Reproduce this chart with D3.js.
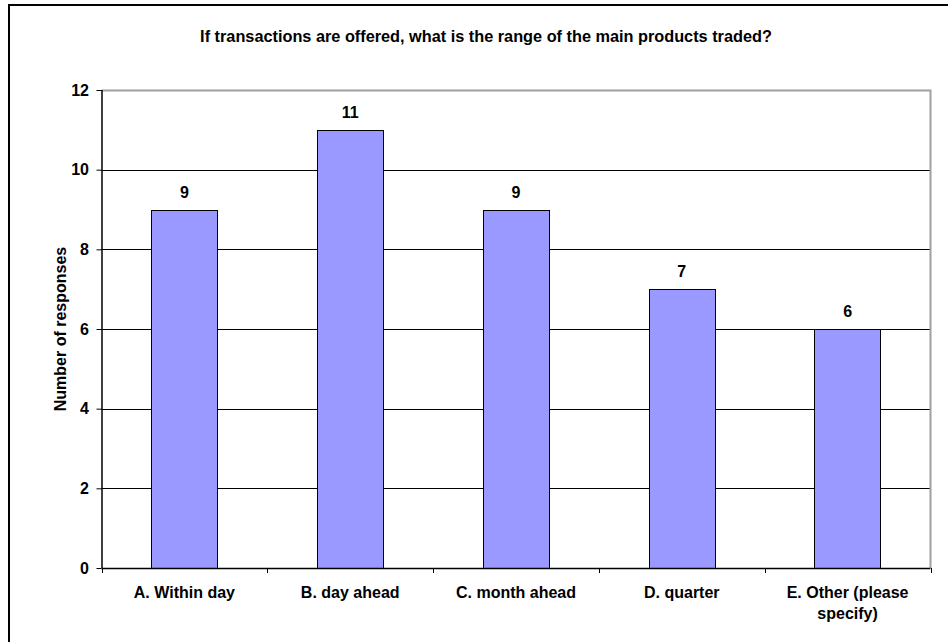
<!DOCTYPE html>
<html>
<head>
<meta charset="utf-8">
<script src="https://cdn.jsdelivr.net/npm/d3@7"></script>
<style>
  html, body { margin: 0; padding: 0; background: #fff; }
  svg { display: block; }
  text { font-family: "Liberation Sans", Arial, sans-serif; font-weight: bold; fill: #000; }
</style>
</head>
<body>
<svg id="chart" width="948" height="642"></svg>
<script>
const title = "If transactions are offered, what is the range of the main products traded?";
const categories = ["A. Within day", "B. day ahead", "C. month ahead", "D. quarter", "E. Other (please specify)"];
const categoryLines = [["A. Within day"], ["B. day ahead"], ["C. month ahead"], ["D. quarter"], ["E. Other (please", "specify)"]];
const values = [9, 11, 9, 7, 6];
const yTicks = [0, 2, 4, 6, 8, 10, 12];
const yLabel = "Number of responses";

const svg = d3.select("#chart");
const m = { left: 101.5, right: 930.5, top: 90, bottom: 568 };
const FS = 16;

// outer chart frame (only top/left visible in crop)
svg.append("path")
  .attr("d", `M9,642 V5 H948`)
  .attr("fill", "none").attr("stroke", "#000").attr("stroke-width", 2);

const x = d3.scaleBand().domain(categories).range([m.left, m.right]).paddingInner(0.6).paddingOuter(0.3);
const y = d3.scaleLinear().domain([0, 12]).range([m.bottom, m.top]);

// gridlines
svg.append("g").selectAll("line").data(yTicks.filter(d => d > 0 && d < 12)).join("line")
  .attr("x1", m.left).attr("x2", m.right)
  .attr("y1", d => Math.round(y(d)) + 0.5).attr("y2", d => Math.round(y(d)) + 0.5)
  .attr("stroke", "#000").attr("stroke-width", 1);

// plot area border top/right (gray)
svg.append("path")
  .attr("d", `M${m.left},${Math.round(y(12)) + 0.5} H${m.right} V${m.bottom}`)
  .attr("fill", "none").attr("stroke", "#a0a0a0").attr("stroke-width", 2);

// bars
svg.append("g").selectAll("rect").data(values).join("rect")
  .attr("x", (d, i) => Math.round(x(categories[i])) + 0.5)
  .attr("y", d => Math.round(y(d)) + 0.5)
  .attr("width", Math.round(x.bandwidth()))
  .attr("height", d => Math.round(y(0)) - Math.round(y(d)))
  .attr("fill", "#9999ff").attr("stroke", "#000").attr("stroke-width", 1);

// value labels
svg.append("g").selectAll("text").data(values).join("text")
  .attr("x", (d, i) => x(categories[i]) + x.bandwidth() / 2)
  .attr("y", d => y(d) - 12)
  .attr("text-anchor", "middle").attr("font-size", FS)
  .text(d => d);

// y axis
const yAxis = svg.append("g").attr("transform", `translate(${m.left},0)`)
  .call(d3.axisLeft(y).tickValues(yTicks).tickSize(5).tickPadding(7.5).tickFormat(d3.format("d")));
yAxis.select(".domain").attr("stroke", "#000").attr("stroke-width", 1.5).attr("d", `M0.5,${m.top}V${m.bottom}`);
yAxis.selectAll(".tick line").attr("stroke", "#000");
yAxis.selectAll(".tick text").attr("font-size", FS).attr("font-family", null).attr("font-weight", null).attr("fill", "#000");

// x axis
const xb = svg.append("g");
xb.append("line").attr("x1", m.left).attr("x2", m.right).attr("y1", m.bottom + 0.5).attr("y2", m.bottom + 0.5)
  .attr("stroke", "#000").attr("stroke-width", 1.5);
const boundaries = d3.range(categories.length + 1).map(i => m.left + (m.right - m.left) * i / categories.length);
xb.selectAll("line.tk").data(boundaries).join("line").attr("class", "tk")
  .attr("x1", d => Math.round(d) + 0.5).attr("x2", d => Math.round(d) + 0.5)
  .attr("y1", m.bottom).attr("y2", m.bottom + 5).attr("stroke", "#000");
const xl = xb.selectAll("text.cat").data(categories).join("text").attr("class", "cat")
  .attr("x", d => x(d) + x.bandwidth() / 2)
  .attr("y", m.bottom + 30)
  .attr("text-anchor", "middle").attr("font-size", FS);
xl.each(function(d, i) {
  d3.select(this).selectAll("tspan").data(categoryLines[i]).join("tspan")
    .attr("x", x(d) + x.bandwidth() / 2)
    .attr("dy", (t, j) => j === 0 ? 0 : 21)
    .text(t => t);
});

// y label
svg.append("text")
  .attr("transform", `translate(66,${(m.top + m.bottom) / 2}) rotate(-90)`)
  .attr("text-anchor", "middle").attr("font-size", FS)
  .text(yLabel);

// title
svg.append("text")
  .attr("x", 486).attr("y", 42)
  .attr("text-anchor", "middle").attr("font-size", 16.3)
  .text(title);
</script>
</body>
</html>
